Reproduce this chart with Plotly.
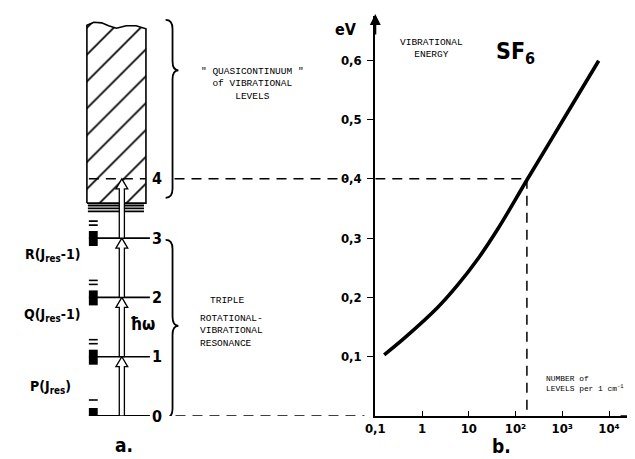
import plotly.graph_objects as go

# ---------------- data ----------------
# panel b: vibrational energy of SF6 vs density of vibrational levels
level_density = [0.155, 0.43, 2.1, 5.8, 16, 43, 175, 1000, 6000]   # levels per 1 cm^-1
vib_energy = [0.103, 0.132, 0.182, 0.221, 0.266, 0.317, 0.398, 0.497, 0.599]  # eV
crossing_density = 175
crossing_energy = 0.4

y_tickvals = [0.1, 0.2, 0.3, 0.4, 0.5, 0.6]
y_ticktext = ["0,1", "0,2", "0,3", "0,4", "0,5", "0,6"]
x_tickvals = [0.1, 1, 10, 100, 1000, 10000]
x_ticktext = ["0,1", "1", "10", "10²", "10³", "10⁴"]

# panel a: vibrational ladder (energies in eV)
level_energy = [0.0, 0.1, 0.2, 0.3, 0.4]
level_labels = ["0", "1", "2", "3", "4"]
branch_labels = ["P(J<sub>res</sub>)", "Q(J<sub>res</sub>-1)", "R(J<sub>res</sub>-1)"]
quasi_bottom = 0.359
quasi_top_x = [70, 77, 85, 92, 100, 110, 120, 130]
quasi_top = [0.659, 0.664, 0.663, 0.658, 0.654, 0.658, 0.658, 0.653]

# ---------------- layout geometry ----------------
W, H = 635, 459
AX_X, AX_Y = 363, 408          # pixel position of the origin of panel b
PX_PER_EV = 593
PX_PER_DEC = 47.5
X_END = 630
Y_TOP = 8

def px(x):
    return x / W

def py(y):
    return 1 - y / H

HAND = "Liberation Sans Narrow, DejaVu Sans Condensed, Arial Narrow, Liberation Sans, sans-serif"
TYPE = "Liberation Mono, DejaVu Sans Mono, monospace"

fig = go.Figure()

# ---------- panel a ----------
# hatched quasicontinuum block
qx = [70] + quasi_top_x + [130, 70]
qy = [quasi_bottom] + quasi_top + [quasi_bottom, quasi_bottom]
fig.add_trace(go.Scatter(x=qx, y=qy, xaxis="x2", yaxis="y", mode="lines", fill="toself",
                         fillcolor="white",
                         fillpattern=dict(shape="/", size=19, solidity=0.09, fgcolor="black",
                                          bgcolor="white", fgopacity=1),
                         line=dict(color="black", width=1.6), hoverinfo="skip", showlegend=False))

# dense band just below the block
for e in [0.355, 0.350, 0.345]:
    fig.add_trace(go.Scatter(x=[71, 128], y=[e, e], xaxis="x2", yaxis="y", mode="lines",
                             line=dict(color="black", width=1.8), hoverinfo="skip", showlegend=False))

# level lines 0-3
for e in level_energy[:4]:
    fig.add_trace(go.Scatter(x=[72, 134], y=[e, e], xaxis="x2", yaxis="y", mode="lines",
                             line=dict(color="black", width=1.6 if e > 0 else 2.2),
                             hoverinfo="skip", showlegend=False))

# rotational sub-level blocks
dE = 1.0 / PX_PER_EV
for e in level_energy[:4]:
    lo = e - (3 if e == 0 else 8) * dE
    hi = e + (8 if e == 0 else 7) * dE
    fig.add_shape(type="rect", xref="x2", yref="y", x0=72, x1=81, y0=lo, y1=hi,
                  fillcolor="black", line=dict(width=0))
    for off in ([16] if e == 0 else [13, 17]):
        fig.add_shape(type="line", xref="x2", yref="y", x0=72, x1=81,
                      y0=e + off * dE, y1=e + off * dE, line=dict(color="black", width=1.6))

# level-4 dashed line and level-0 dashed line (panel a part)
fig.add_trace(go.Scatter(x=[72, 130, None, 159, 334], y=[level_energy[4]] * 2 + [None] + [level_energy[4]] * 2,
                         xaxis="x2", yaxis="y", mode="lines",
                         line=dict(color="black", width=1.5, dash="10px,7px"),
                         hoverinfo="skip", showlegend=False))
fig.add_trace(go.Scatter(x=[160, 352], y=[level_energy[0]] * 2, xaxis="x2", yaxis="y", mode="lines",
                         line=dict(color="black", width=1.5, dash="10px,7px"),
                         hoverinfo="skip", showlegend=False))

# hollow arrows  (ħω steps)
xc, w, hw, hl = 105.5, 2.6, 6.0, 10 * dE
for e0, e1 in zip(level_energy[:-1], level_energy[1:]):
    path = (f"M {xc-w},{e0} L {xc-w},{e1-hl} L {xc-hw},{e1-hl} L {xc},{e1} "
            f"L {xc+hw},{e1-hl} L {xc+w},{e1-hl} L {xc+w},{e0} Z")
    fig.add_shape(type="path", xref="x2", yref="y", path=path,
                  fillcolor="white", line=dict(color="black", width=1.3))

# braces
def brace(x0, top, bot, mid, hook=7, tip=6, r=9 * dE):
    return (f"M {x0-hook},{top} Q {x0},{top} {x0},{top-r} L {x0},{mid+r} "
            f"Q {x0},{mid} {x0+tip},{mid} Q {x0},{mid} {x0},{mid-r} "
            f"L {x0},{bot+r} Q {x0},{bot} {x0-hook},{bot}")

fig.add_shape(type="path", xref="x2", yref="y", path=brace(157, 0.668, 0.368, 0.583),
              line=dict(color="black", width=1.8))
fig.add_shape(type="path", xref="x2", yref="y", path=brace(157, 0.297, -0.003, 0.152),
              line=dict(color="black", width=1.8))

# ---------- panel b ----------
fig.add_trace(go.Scatter(x=[x_tickvals[0], crossing_density], y=[crossing_energy] * 2,
                         mode="lines", line=dict(color="black", width=1.5, dash="10px,7px"),
                         hoverinfo="skip", showlegend=False))
fig.add_trace(go.Scatter(x=[crossing_density] * 2, y=[crossing_energy, 0],
                         mode="lines", line=dict(color="black", width=1.5, dash="10px,7px"),
                         hoverinfo="skip", showlegend=False))
fig.add_trace(go.Scatter(x=level_density, y=vib_energy, mode="lines",
                         line=dict(color="black", width=3.6, shape="spline", smoothing=1.0),
                         hoverinfo="skip", showlegend=False))

# ---------- annotations ----------
ann = []
def text(x, y, t, size, family=HAND, xanchor="center", align="center", bold=False):
    ann.append(dict(x=px(x), y=py(y), xref="paper", yref="paper", text=(f"<b>{t}</b>" if bold else t),
                    showarrow=False, xanchor=xanchor, yanchor="middle", align=align,
                    font=dict(family=family, size=size, color="black")))

text(333, 22, "eV", 16, bold=True)
text(420, 40, "VIBRATIONAL<br>ENERGY", 9.5, family=TYPE)
text(505, 45, "SF<sub>6</sub>", 23, bold=True)
text(534, 375, "NUMBER of<br>LEVELS per 1 cm<sup>-1</sup>", 7.9, family=TYPE, xanchor="left", align="left")
text(238, 76, "\" QUASICONTINUUM \"<br>of VIBRATIONAL<br>LEVELS", 9.5, family=TYPE)
text(213, 292, "TRIPLE", 9.5, family=TYPE)
text(183, 323, "ROTATIONAL-<br>VIBRATIONAL<br>RESONANCE", 9.5, family=TYPE, xanchor="left", align="left")
text(35, 247, branch_labels[2], 14, bold=True)
text(35, 307, branch_labels[1], 14, bold=True)
text(33, 379, branch_labels[0], 14, bold=True)
text(126, 316, "ħω", 17, bold=True)
text(108, 437, "a.", 19, bold=True)
text(491, 438, "b.", 19, bold=True)

for lab, e in zip(level_labels, level_energy):
    ann.append(dict(x=141, y=e, xref="x2", yref="y", text=f"<b>{lab}</b>", showarrow=False,
                    xanchor="center", yanchor="middle",
                    font=dict(family=HAND, size=16, color="black")))

# axis arrowheads
ann.append(dict(x=px(AX_X), y=py(Y_TOP - 2), xref="paper", yref="paper", ax=0, ay=22, text="",
                showarrow=True, arrowhead=2, arrowsize=1.1, arrowwidth=2, arrowcolor="black"))
ann.append(dict(x=px(X_END + 3), y=py(AX_Y), xref="paper", yref="paper", ax=-22, ay=0, text="",
                showarrow=True, arrowhead=2, arrowsize=1.1, arrowwidth=1.6, arrowcolor="black"))

y_dom0 = (H - AX_Y) / H
y_dom1 = (H - Y_TOP) / H
y_max = (AX_Y - Y_TOP) / PX_PER_EV
x_log_max = -1 + (X_END - AX_X) / PX_PER_DEC

fig.update_layout(
    width=W, height=H, margin=dict(l=0, r=0, t=0, b=0),
    paper_bgcolor="white", plot_bgcolor="white",
    showlegend=False, annotations=ann,
    xaxis=dict(type="log", domain=[AX_X / W, X_END / W], range=[-1, x_log_max], anchor="y",
               showline=True, linecolor="black", linewidth=1.6, showgrid=False, zeroline=False,
               tickvals=x_tickvals, ticktext=[f"<b>{t}</b>" for t in x_ticktext],
               ticks="inside", ticklen=5, tickwidth=1.4,
               tickcolor="black", ticklabelstandoff=0,
               tickfont=dict(family=HAND, size=13, color="black"), fixedrange=True),
    xaxis2=dict(domain=[0, AX_X / W], range=[0, AX_X], anchor="y", visible=False, fixedrange=True),
    yaxis=dict(domain=[y_dom0, y_dom1], range=[0, y_max], anchor="x",
               showline=True, linecolor="black", linewidth=2, showgrid=False, zeroline=False,
               tickvals=y_tickvals, ticktext=[f"<b>{t}</b>" for t in y_ticktext],
               ticks="outside", ticklen=6, tickwidth=1.4,
               tickcolor="black", ticklabelstandoff=3,
               tickfont=dict(family=HAND, size=13, color="black"), fixedrange=True),
)

fig.write_html("out.html")
